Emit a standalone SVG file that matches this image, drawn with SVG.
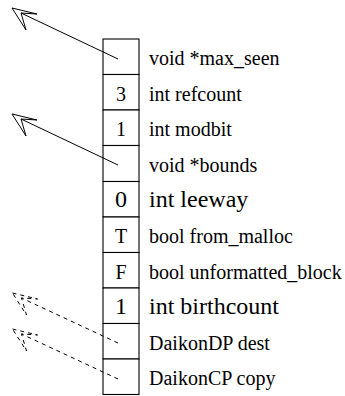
<svg xmlns="http://www.w3.org/2000/svg" xmlns:xlink="http://www.w3.org/1999/xlink" width="345" height="396" viewBox="0 0 345 396">
  <style>
    .cell { fill: #ffffff; stroke: #000000; stroke-width: 1.1; }
    .lbl { font-family: "Liberation Serif", "Times New Roman", serif; font-size: 20px; fill: #000000; }
    .lbl.big { font-size: 24px; }
    .val { font-family: "Liberation Serif", "Times New Roman", serif; font-size: 20px; fill: #000000; text-anchor: middle; }
    .val.big { font-size: 24px; }
    .ptr { fill: none; stroke: #000000; stroke-width: 1; }
    .ptr.dash { stroke-dasharray: 4 4; }
  </style>
  <defs>
    <!-- open indented arrowhead, tip at origin -->
    <path id="head" d="M0,0 L25,6 L9,5 L14,22 Z"/>
  </defs>

  <!-- record cells -->
  <g id="f_max_seen">
    <rect class="cell" x="103" y="39" width="36" height="35.5"/>
    <text class="lbl" x="149" y="65">void *max_seen</text>
  </g>
  <g id="f_refcount">
    <rect class="cell" x="103" y="74.5" width="36" height="35.5"/>
    <text class="val" x="121" y="100.5">3</text>
    <text class="lbl" x="149" y="100.5">int refcount</text>
  </g>
  <g id="f_modbit">
    <rect class="cell" x="103" y="110" width="36" height="35.5"/>
    <text class="val" x="121" y="136">1</text>
    <text class="lbl" x="149" y="136">int modbit</text>
  </g>
  <g id="f_bounds">
    <rect class="cell" x="103" y="145.5" width="36" height="36"/>
    <text class="lbl" x="149" y="171.5">void *bounds</text>
  </g>
  <g id="f_leeway">
    <rect class="cell" x="103" y="181.5" width="36" height="35.5"/>
    <text class="val big" x="121" y="207">0</text>
    <text class="lbl big" x="149" y="207">int leeway</text>
  </g>
  <g id="f_from_malloc">
    <rect class="cell" x="103" y="217" width="36" height="35.5"/>
    <text class="val" x="121" y="243">T</text>
    <text class="lbl" x="149" y="243">bool from_malloc</text>
  </g>
  <g id="f_unformatted_block">
    <rect class="cell" x="103" y="252.5" width="36" height="35.5"/>
    <text class="val" x="121" y="278.5">F</text>
    <text class="lbl" x="149" y="278.5">bool unformatted_block</text>
  </g>
  <g id="f_birthcount">
    <rect class="cell" x="103" y="288" width="36" height="35.5"/>
    <text class="val big" x="121" y="314">1</text>
    <text class="lbl big" x="149" y="314">int birthcount</text>
  </g>
  <g id="f_dest">
    <rect class="cell" x="103" y="323.5" width="36" height="35.5"/>
    <text class="lbl" x="149" y="349.5">DaikonDP dest</text>
  </g>
  <g id="f_copy">
    <rect class="cell" x="103" y="359" width="36" height="35.5"/>
    <text class="lbl" x="149" y="384.5">DaikonCP copy</text>
  </g>

  <!-- pointers out of the record -->
  <g id="connectors">
    <line class="ptr" x1="118" y1="59" x2="21" y2="13"/>
    <use class="ptr" xlink:href="#head" href="#head" transform="translate(12,8)"/>

    <line class="ptr" x1="118" y1="165" x2="21" y2="119"/>
    <use class="ptr" xlink:href="#head" href="#head" transform="translate(12,114)"/>

    <line class="ptr dash" x1="118" y1="343" x2="21.5" y2="298"/>
    <use class="ptr dash" xlink:href="#head" href="#head" transform="translate(12.5,293)"/>

    <line class="ptr dash" x1="118" y1="379" x2="21.5" y2="334"/>
    <use class="ptr dash" xlink:href="#head" href="#head" transform="translate(12.5,329)"/>
  </g>
</svg>
